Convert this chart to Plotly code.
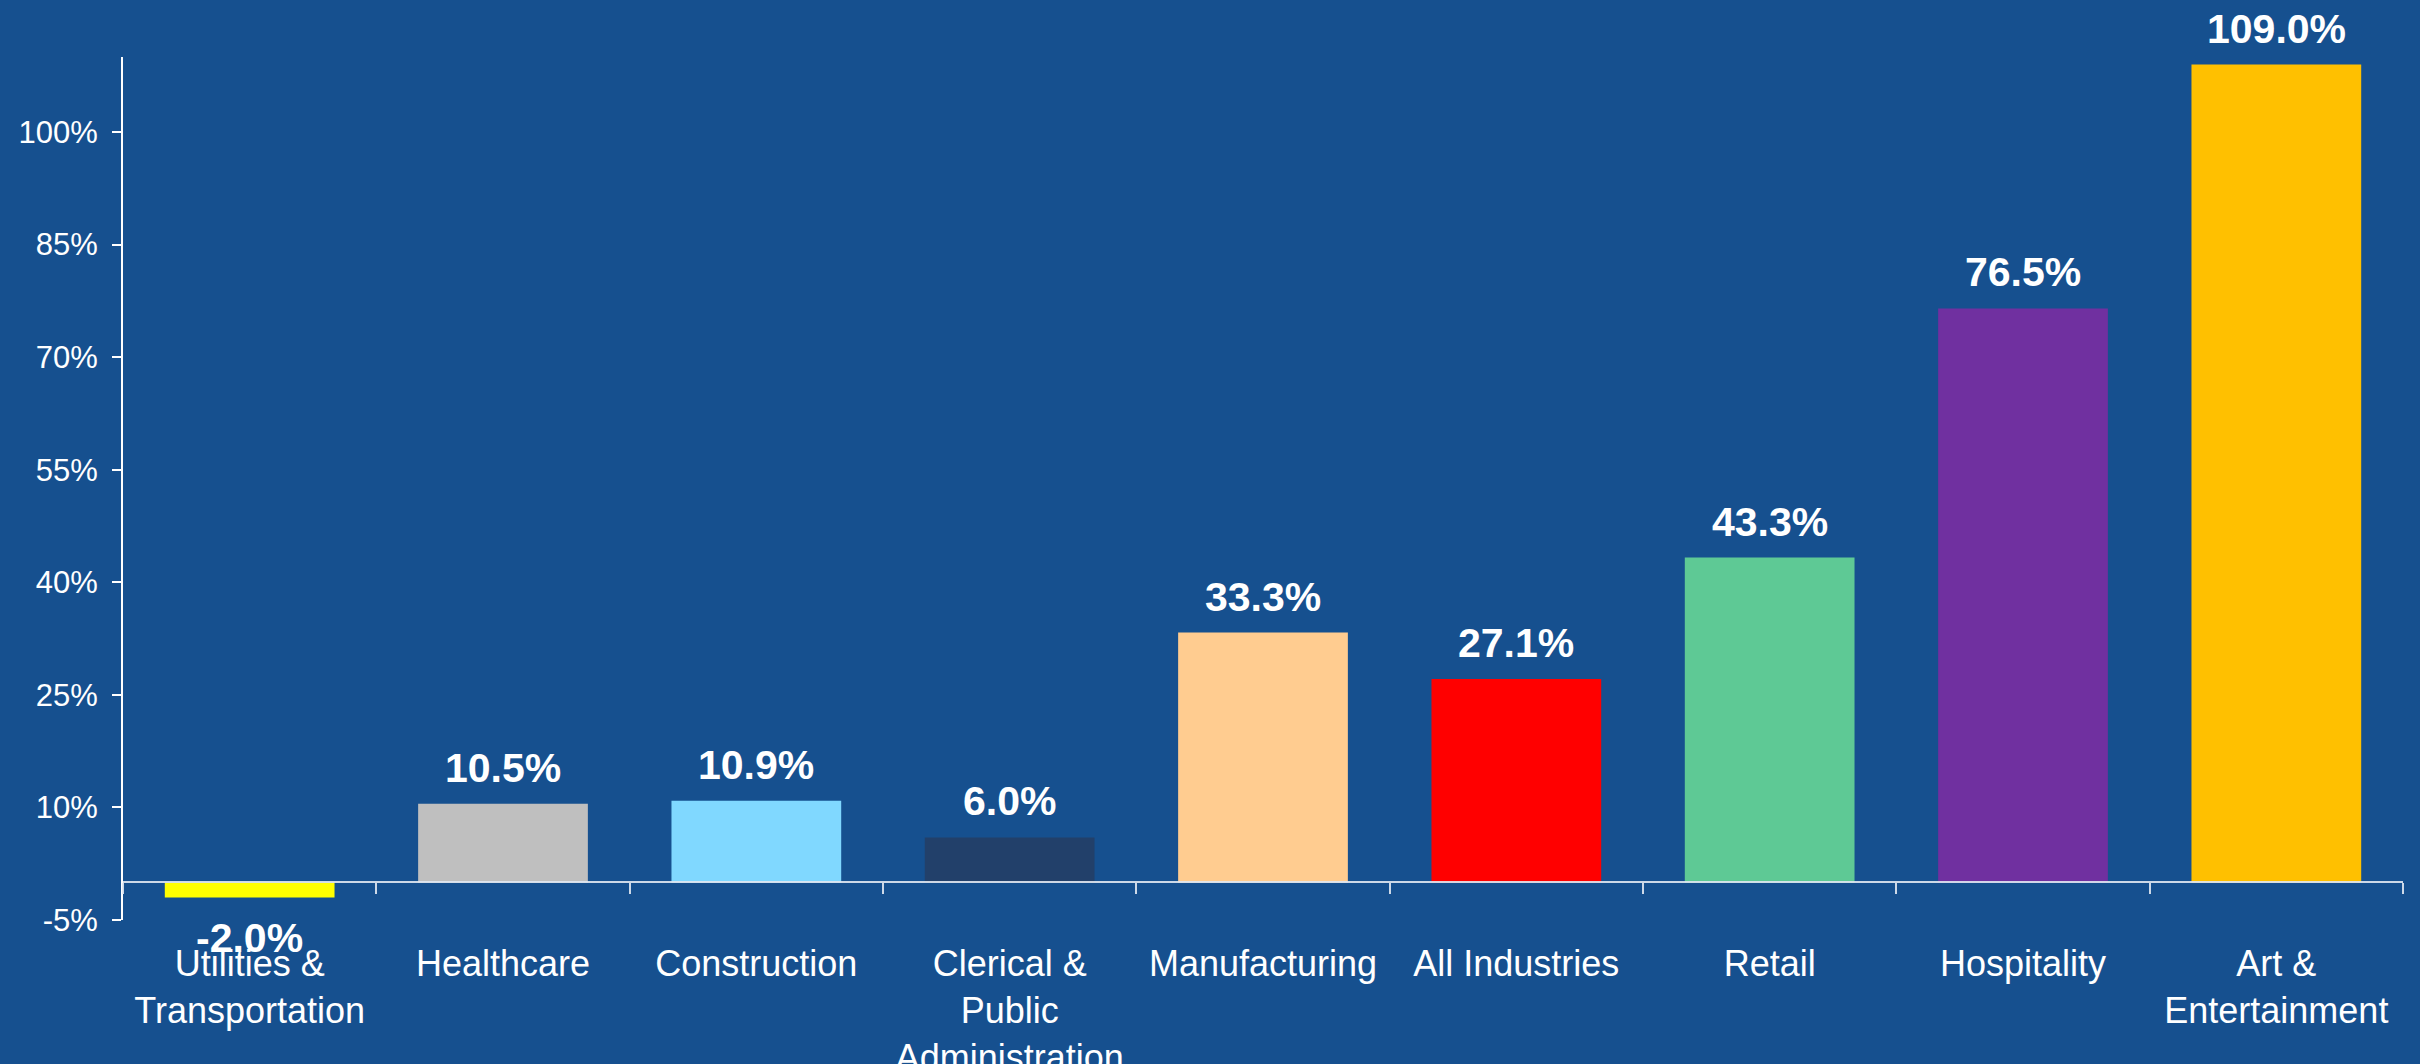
import plotly.graph_objects as go

# Industry categories and their percentage change
categories = [
    "Utilities &<br>Transportation",
    "Healthcare",
    "Construction",
    "Clerical &<br>Public<br>Administration",
    "Manufacturing",
    "All Industries",
    "Retail",
    "Hospitality",
    "Art &<br>Entertainment",
]
values = [-2.0, 10.5, 10.9, 6.0, 33.3, 27.1, 43.3, 76.5, 109.0]
bar_colors = [
    "#FFFF00", "#BFBFBF", "#80D8FF", "#22406A", "#FFCC90",
    "#FF0000", "#5EC995", "#7030A0", "#FFC000",
]
y_ticks = [-5, 10, 25, 40, 55, 70, 85, 100]

BG = "#16508F"
FONT = "Arial, Liberation Sans, sans-serif"
AXIS_LIGHT = "rgba(225,232,242,0.9)"

fig = go.Figure(
    go.Bar(
        x=categories,
        y=values,
        marker=dict(color=bar_colors, line=dict(width=0)),
        hoverinfo="skip",
    )
)

# Bold value labels above (or below, for negatives) each bar
for cat, val in zip(categories, values):
    fig.add_annotation(
        x=cat,
        y=val,
        text=f"<b>{val:.1f}%</b>",
        showarrow=False,
        yanchor="bottom" if val >= 0 else "top",
        yshift=11 if val >= 0 else -16,
        font=dict(family=FONT, size=41, color="white"),
    )

fig.update_layout(
    width=2420,
    height=1064,
    margin=dict(l=123, r=17, t=57, b=144, autoexpand=False),
    paper_bgcolor=BG,
    plot_bgcolor=BG,
    showlegend=False,
    bargap=0.33,
    font=dict(family=FONT, color="white"),
)

fig.update_xaxes(
    type="category",
    anchor="free",
    position=5 / 115,
    automargin=False,
    showline=True,
    linecolor=AXIS_LIGHT,
    linewidth=1.5,
    ticks="outside",
    tickson="boundaries",
    ticklen=11,
    tickwidth=1.5,
    tickcolor=AXIS_LIGHT,
    showgrid=False,
    zeroline=False,
    tickfont=dict(family=FONT, size=36, color="white"),
    ticklabelstandoff=50,
    tickangle=0,
)

fig.update_yaxes(
    range=[-5, 110],
    tickvals=y_ticks,
    ticktext=[f"{v}%" for v in y_ticks],
    automargin=False,
    showline=True,
    linecolor="white",
    linewidth=2,
    ticks="outside",
    ticklen=9,
    tickwidth=2,
    tickcolor="white",
    showgrid=False,
    zeroline=False,
    tickfont=dict(family=FONT, size=31, color="white"),
    ticklabelstandoff=8,
)

fig.write_html("out.html")
